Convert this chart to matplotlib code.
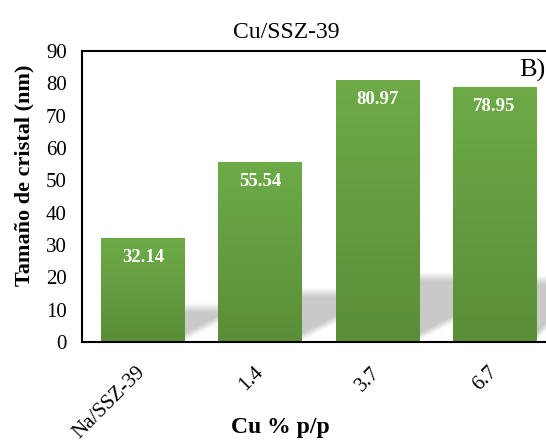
import numpy as np
import matplotlib.pyplot as plt
from matplotlib.colors import LinearSegmentedColormap
from matplotlib.transforms import ScaledTranslation

plt.rcParams['font.family'] = ['Liberation Serif', 'DejaVu Serif']

categories = ['Na/SSZ-39', '1.4', '3.7', '6.7']
sizes = [32.14, 55.54, 80.97, 78.95]

fig = plt.figure(figsize=(5.46, 4.46), dpi=100)
ax = fig.add_axes([82 / 546, 104 / 446, 471 / 546, 291 / 446])

x = np.arange(len(categories))
width = 0.71
xmin, xmax = -0.52, 3.5

# soft grey floor shadows in the gaps between bars
shadow_top = [10.5, 15.2, 20, 19]
gy = np.linspace(0, 22, 220)
gu = np.linspace(0, 1, 60)
U, Y = np.meshgrid(gu, gy)
for i in range(len(x)):
    xr = x[i] + width / 2
    xe = x[i + 1] - width / 2 if i + 1 < len(x) else xmax
    a = np.clip((shadow_top[i] - Y) / 3.0 + 0.5, 0, 1)
    yb = 1.5 + 5.3 * U
    a *= np.clip((Y - yb) / 2.5 + 0.5, 0, 1)
    rgba = np.zeros(Y.shape + (4,))
    rgba[..., :3] = 0.79
    rgba[..., 3] = a
    ax.imshow(rgba, origin='lower', aspect='auto', extent=(xr, xe, 0, 22),
              interpolation='bilinear', zorder=1)

# green gradient bars
cmap_bar = LinearSegmentedColormap.from_list('g', ['#5a8e39', '#6dab47'])
bars = ax.bar(x, sizes, width=width, color='none', edgecolor='none', zorder=2)
vgrad = np.linspace(0, 1, 256).reshape(-1, 1)
for b in bars:
    im = ax.imshow(vgrad, cmap=cmap_bar, origin='lower', aspect='auto',
                   extent=(b.get_x(), b.get_x() + b.get_width(), 0, b.get_height()), zorder=2)
    im.set_clip_path(b)

for xi, v in zip(x, sizes):
    ax.annotate(f'{v:.2f}', (xi, v), xytext=(0, -14), textcoords='offset points',
                ha='center', va='center', color='white', fontweight='bold', fontsize=13.5, zorder=3)

ax.set_xlim(xmin, xmax)
ax.set_ylim(0, 90)
ax.set_yticks(range(0, 91, 10))
ax.set_xticks(x)
ax.set_xticklabels(categories, rotation=45, ha='right', va='center', rotation_mode='anchor', fontsize=15)
shift = ScaledTranslation(-4 / 100, 2 / 100, fig.dpi_scale_trans)
for lbl in ax.get_xticklabels():
    lbl.set_transform(lbl.get_transform() + shift)
ax.tick_params(axis='y', labelsize=15, length=0, pad=11)
ax.tick_params(axis='x', length=0, pad=20)
for s in ['top', 'left', 'bottom']:
    ax.spines[s].set_linewidth(1.5)
ax.spines['right'].set_visible(False)

fig.text(24 / 546, 1 - 175 / 446, 'Tamaño de cristal (nm)', fontweight='bold', fontsize=16,
         rotation=90, ha='center', va='center')
fig.text(280 / 546, 1 - 427 / 446, 'Cu % p/p', fontweight='bold', fontsize=17, ha='center', va='center')
fig.text(286 / 546, 1 - 32 / 446, 'Cu/SSZ-39', fontsize=17, ha='center', va='center')
fig.text(519 / 546, 1 - 70 / 446, 'B)', fontsize=19, ha='left', va='center')

fig.savefig('out.png', dpi=100)
